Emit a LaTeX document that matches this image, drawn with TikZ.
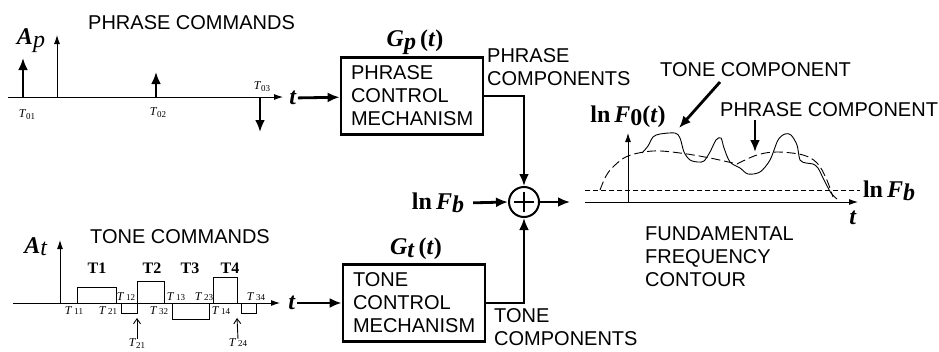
\documentclass[tikz,border=0pt]{standalone}
\usepackage{fontspec}
\setmainfont{Liberation Serif}
\setsansfont{Liberation Sans}
\usepackage{tikz}
\usetikzlibrary{arrows.meta,positioning}
\newcommand{\capsize}{\fontsize{20}{23}\selectfont\sffamily}
\newcommand{\symsize}{\fontsize{24}{26}\selectfont\bfseries}
\newcommand{\tlab}[1]{\textit{T}\,{\fontsize{9}{9}\selectfont #1}}
\newcommand{\tsublab}[1]{\textit{T}\raisebox{-2pt}{\fontsize{9}{9}\selectfont #1}}
\tikzset{
  blockbox/.style={draw,line width=2.8pt,text width=122pt,inner xsep=10pt,
    minimum height=77pt,align=left,font=\capsize},
  sumnode/.style={draw,circle,line width=2pt,minimum size=30pt,inner sep=0pt,
    path picture={\draw[line width=2pt]
      ([xshift=-10pt]path picture bounding box.center) -- ([xshift=10pt]path picture bounding box.center)
      ([yshift=-10pt]path picture bounding box.center) -- ([yshift=10pt]path picture bounding box.center);}},
  flow/.style={line width=2.8pt,-{Latex[length=12pt,width=10pt]}},
  axis/.style={line width=0.9pt,-{Latex[length=9pt,width=6pt]}},
  pulse/.style={line width=0.9pt},
  caption/.style={font=\capsize,align=left,inner sep=0pt,anchor=west},
  symbol/.style={font=\symsize,inner sep=1pt},
  tnote/.style={font=\fontsize{12}{12}\selectfont,inner sep=0pt},
}

\begin{document}
\begin{tikzpicture}[x=1pt,y=-1pt]
  \useasboundingbox[fill=white] (0,0) rectangle (939,351);
  % phrase commands
  \node[caption] (phrcmd) at (88,23) {PHRASE COMMANDS};
  \node[symbol,font=\fontsize{24}{26}\selectfont] (ap) at (31,41) {\textbf{\textit{A}}\raisebox{-3pt}{\textit{p}}};
  \draw[axis] (8,97) -- (283,97);
  \draw[axis] (57,97) -- (57,35);
  \draw[flow] (23,97) -- (23,58);
  \draw[flow] (156,97) -- (156,72);
  \draw[flow] (260,97) -- (260,132);
  \node[tnote] (t01) at (27,115) {\tsublab{01}};
  \node[tnote] (t02) at (158,113) {\tsublab{02}};
  \node[tnote] (t03) at (262,87) {\tsublab{03}};
  \node[symbol] (tp) at (293,98) {\textit{t}};

  % tone commands
  \node[caption] (tonecmd) at (90,237) {TONE COMMANDS};
  \node[symbol,font=\fontsize{24}{26}\selectfont] (at) at (36,247) {\textbf{\textit{A}}\raisebox{-2pt}{\textit{t}}};
  \draw[axis] (13,303) -- (280,303);
  \draw[axis] (60,303) -- (60,240);
  \draw[pulse] (77,303) |- (116,287) -- (116,303);
  \draw[pulse] (121,303) |- (137,313) -- (137,281) -| (164,303);
  \draw[pulse] (172,303) |- (209,319) -- (209,303);
  \draw[pulse] (213,303) |- (237,277) -- (237,303);
  \draw[pulse] (241,303) |- (256,313) -- (256,303);
  \foreach \x/\n in {97/T1,152/T2,190/T3,230/T4}
    \node[font=\fontsize{16}{16}\selectfont\bfseries] (lab\n) at (\x,268) {\n};
  \foreach \x/\y/\n in {74/311/11,108/311/21,126/297/12,159/311/32,176/297/13,204/297/23,221/311/14,256/297/34}
    \node[tnote] (tn\n) at (\x,\y) {\tlab{\n}};
  \coordinate (up21) at (137,318);
  \coordinate (up24) at (237,318);
  \node[tnote] (b21) at (137,344) {\tsublab{21}};
  \node[tnote] (b24) at (238,343) {\tlab{24}};
  \draw[line width=0.9pt,-{Straight Barb[length=5pt,width=7pt]}] (b21.north) -- (up21);
  \draw[line width=0.9pt,-{Straight Barb[length=5pt,width=7pt]}] (b24.north) -- (up24);
  \node[symbol] (tt) at (292,303) {\textit{t}};

  % control mechanisms
  \node[blockbox] (pcm) at (412,96) {PHRASE\\CONTROL\\MECHANISM};
  \node[blockbox] (tcm) at (414,303) {TONE\\CONTROL\\MECHANISM};
  \node[symbol] (gp) at (415,42) {\textit{G}\raisebox{-3pt}{\textit{p}}\,(\textit{t})};
  \node[symbol] (gt) at (416,249) {\textit{G}\raisebox{-3pt}{\textit{t}}\,(\textit{t})};
  \node[caption] (phrcomp) at (487,67) {PHRASE\\COMPONENTS};
  \node[caption] (tonecomp) at (494,327) {TONE\\COMPONENTS};
  \node[sumnode] (sum) at (524,202) {};
  \node[symbol] (lnfb) at (438,203) {ln\,\textit{F}\raisebox{-3pt}{\textit{b}}};
  \coordinate (out) at (570,202);
  \draw[flow] (tp) -- (pcm);
  \draw[flow] (tt) -- (tcm);
  \draw[flow] (pcm.east) -| (sum.north);
  \draw[flow] (tcm.east) -| (sum.south);
  \draw[flow,shorten <=8pt] (lnfb.east) -- (sum.west);
  \draw[flow] (sum.east) -- (out);

  % fundamental frequency contour
  \draw[axis] (585,202) -- (858,202);
  \draw[axis] (628,202) -- (628,133);
  \draw[line width=0.8pt,dash pattern=on 5pt off 3pt] (585,190) -- (860,190);
  \node[symbol] (lnf0) at (628,117) {ln\,\textit{F}\raisebox{-3pt}{0}(\textit{t})};
  \node[symbol] (lnfbr) at (889,191) {ln\,\textit{F}\raisebox{-3pt}{\textit{b}}};
  \node[symbol] (tc) at (853,218) {\textit{t}};
  \draw[line width=0.9pt,dash pattern=on 9pt off 4pt] plot[smooth,tension=0.6] coordinates {
    (600,190) (606,176) (614,166) (628,156) (653,151) (680,153) (710,158) (737,164)}
    plot[smooth,tension=0.6] coordinates {
    (737,164) (757,155) (777,152) (803,155) (817,163) (826,178) (833,197)};
  \draw[line width=0.9pt] plot[smooth,tension=0.5] coordinates {
    (642,153) (648,146) (653,137) (660,134) (675,133) (680,138) (684,152) (690,160)
    (698,162) (704,161) (710,152) (716,140) (721,138) (724,148) (730,162) (740,168)
    (748,174) (760,172) (770,160) (778,140) (785,134) (791,135) (797,145) (800,160)
    (806,163) (813,164) (818,168) (824,180) (831,193) (837,199)};
  \node[caption] (tcomp) at (660,70) {TONE COMPONENT};
  \node[caption] (pcomp) at (720,110) {PHRASE COMPONENT};
  \coordinate (tonetail) at (720,82);
  \coordinate (tonetip) at (679,128);
  \coordinate (phrtail) at (755,120);
  \coordinate (phrtip) at (755,152);
  \draw[flow] (tonetail) -- (tonetip);
  \draw[flow] (phrtail) -- (phrtip);
  \node[caption] (ffc) at (645,257) {FUNDAMENTAL\\FREQUENCY\\CONTOUR};
\end{tikzpicture}
\end{document}
